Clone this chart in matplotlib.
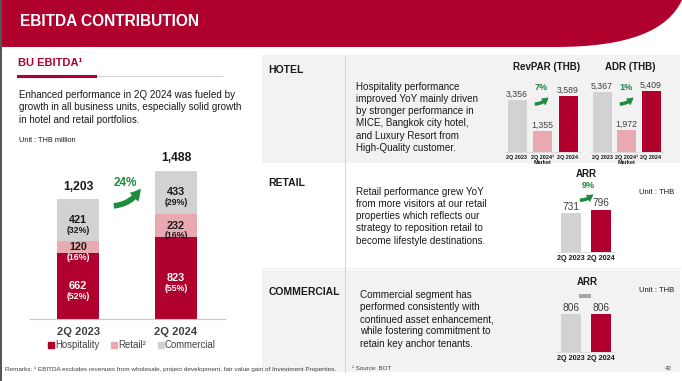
import matplotlib
matplotlib.use("Agg")
import matplotlib.pyplot as plt
from matplotlib.patches import Rectangle, FancyArrowPatch, PathPatch, Patch
from matplotlib.path import Path

plt.rcParams['font.family'] = ['Liberation Sans', 'DejaVu Sans']

# ---------------- data ----------------
periods = ["2Q 2023", "2Q 2024"]
segments = ["Hospitality", "Retail²", "Commercial"]
hospitality = [662, 823]
retail = [120, 232]
commercial = [421, 433]
hosp_pct = ["(52%)", "(55%)"]
retail_pct = ["(16%)", "(16%)"]
comm_pct = ["(32%)", "(29%)"]
total_growth = "24%"

hotel_cats = ["2Q 2023", "2Q 2024¹\nMarket", "2Q 2024"]
revpar = [3356, 1355, 3589]
adr = [5367, 1972, 5409]
revpar_growth = "7%"
adr_growth = "1%"

arr_cats = ["2Q 2023", "2Q 2024"]
retail_arr = [731, 796]
retail_growth = "9%"
commercial_arr = [806, 806]

# ---------------- style ----------------
RED = "#B0002E"
PINK = "#E8A9B1"
GRAY = "#D2D2D2"
BG = "#F2F2F2"
GREEN = "#1E8B3E"
TXT = "#1A1A1A"
DARK = "#404040"

W, H = 682, 381
fig = plt.figure(figsize=(W / 100, H / 100), dpi=100)


def fx(x):
    return x / W


def fy(y):
    return 1 - y / H


def ax_px(x0, y0, x1, y1):
    return fig.add_axes([x0 / W, 1 - y1 / H, (x1 - x0) / W, (y1 - y0) / H])


def txt(x, y, s, **kw):
    kw.setdefault("va", "center")
    return fig.text(fx(x), fy(y), s, **kw)


def rect(x0, y0, x1, y1, color, z=0):
    fig.add_artist(Rectangle((fx(x0), fy(y1)), (x1 - x0) / W, (y1 - y0) / H,
                             transform=fig.transFigure, color=color, lw=0, zorder=z))


def line(x0, y0, x1, y1, color, lw, z=1):
    fig.add_artist(plt.Line2D([fx(x0), fx(x1)], [fy(y0), fy(y1)],
                              transform=fig.transFigure, color=color, lw=lw, zorder=z))


def arrow(x0, y0, x1, y1, tail, head_w, head_l, rad=0.3):
    a = FancyArrowPatch((fx(x0), fy(y0)), (fx(x1), fy(y1)), transform=fig.transFigure,
                        connectionstyle=f"arc3,rad={rad}",
                        arrowstyle=f"simple,head_length={head_l},head_width={head_w},tail_width={tail}",
                        color=GREEN, lw=0, mutation_scale=1, zorder=5)
    fig.add_artist(a)


# ---------------- header ----------------
verts = [(0, 0), (W, 0), (W, 0), (668, 30), (630, 47), (555, 47), (0, 47), (0, 0)]
codes = [Path.MOVETO, Path.LINETO, Path.LINETO, Path.CURVE4, Path.CURVE4, Path.CURVE4,
         Path.LINETO, Path.CLOSEPOLY]
hp = Path([(fx(x), fy(y)) for x, y in verts], codes)
fig.add_artist(PathPatch(hp, transform=fig.transFigure, color=RED, lw=0, zorder=1))
txt(20, 22, "EBITDA CONTRIBUTION", color="white", fontsize=11.2, fontweight="bold", zorder=2)
rect(0, 0, 2, H, "#555555", z=3)

# ---------------- right panel backgrounds ----------------
rect(262, 55, 680, 163, BG)
rect(262, 270, 680, 372, BG)
line(262, 268, 680, 268, "#E6E6E6", 0.6)
line(345, 55, 345, 372, "#F2C9CF", 0.8, z=2)

# ---------------- left panel text ----------------
txt(18, 63, "BU EBITDA¹", color=RED, fontsize=8, fontweight="bold")
line(18, 76, 95, 76, RED, 2.2, z=2)
line(95, 76, 222, 76, "#D0D0D0", 0.7)
txt(19, 90, "Enhanced performance in 2Q 2024 was fueled by\n"
             "growth in all business units, especially solid growth\n"
             "in hotel and retail portfolios.",
    va="top", fontsize=7.1, color=TXT, linespacing=1.3)
txt(19, 141, "Unit : THB million", fontsize=5.3, color=TXT)

# ---------------- stacked chart ----------------
ax = ax_px(30, 169, 225, 319)
xs = list(range(len(periods)))
ax.bar(xs, hospitality, width=0.42, color=RED, zorder=2)
ax.bar(xs, retail, width=0.42, bottom=hospitality, color=PINK, zorder=2)
bottom_c = [h + r for h, r in zip(hospitality, retail)]
ax.bar(xs, commercial, width=0.42, bottom=bottom_c, color=GRAY, zorder=2)
ax.set_xlim(-0.49, 1.5)
ax.set_ylim(0, 150 / 0.0995)
for s in ["top", "right", "left"]:
    ax.spines[s].set_visible(False)
ax.spines["bottom"].set_color("#C8C8C8")
ax.spines["bottom"].set_linewidth(0.8)
ax.set_yticks([])
ax.set_xticks(xs)
ax.set_xticklabels(periods, fontsize=8, fontweight="bold", color=DARK)
ax.tick_params(axis="x", length=0, pad=5.5)
ax.patch.set_alpha(0)

num_colors = [["white", "white"], [TXT, TXT], [TXT, TXT]]
pct_colors = [["white", "white"], ["white", TXT], [TXT, TXT]]
series = [hospitality, retail, commercial]
pcts = [hosp_pct, retail_pct, comm_pct]
for i in xs:
    base = 0
    for k, vals in enumerate(series):
        v = vals[i]
        mid = base + v / 2
        ax.annotate(f"{v:,}", (i, mid), xytext=(0, 0), textcoords="offset points",
                    ha="center", va="center", fontsize=7.8, fontweight="bold",
                    color=num_colors[k][i], zorder=4)
        ax.annotate(pcts[k][i], (i, mid), xytext=(0, -7.2), textcoords="offset points",
                    ha="center", va="center", fontsize=6.3, fontweight="bold",
                    color=pct_colors[k][i], zorder=4)
        base += v
    ax.annotate(f"{base:,}", (i, base), xytext=(0, 9), textcoords="offset points",
                ha="center", va="center", fontsize=8.7, fontweight="bold", color=TXT,
                annotation_clip=False)

arrow(111, 206, 142, 186, tail=4, head_w=9, head_l=8, rad=0.3)
txt(125, 183, total_growth, color=GREEN, fontsize=8.5, fontweight="bold", ha="center")

handles = [Patch(color=c) for c in (RED, PINK, GRAY)]
fig.legend(handles, segments, loc="center", bbox_to_anchor=(fx(132), fy(345.5)), ncol=3,
           frameon=False, fontsize=6.9, handlelength=0.6, handleheight=0.6,
           handletextpad=0.15, columnspacing=1.2, labelcolor=DARK, borderaxespad=0,
           borderpad=0)


# ---------------- small bar charts ----------------
def small_bars(box, centers_px, width_px, px_per_unit, cats, vals, colors,
               vfs, tfs):
    x0, y0, x1, y1 = box
    step = (centers_px[-1] - centers_px[0]) / (len(centers_px) - 1)
    a = ax_px(x0, y0, x1, y1)
    idx = list(range(len(vals)))
    bars = a.bar(idx, vals, width=width_px / step, color=colors, zorder=2)
    a.set_xlim(-(centers_px[0] - x0) / step, idx[-1] + (x1 - centers_px[-1]) / step)
    a.set_ylim(0, (y1 - y0) / px_per_unit)
    for s in ["top", "right", "left"]:
        a.spines[s].set_visible(False)
    a.spines["bottom"].set_color("#D9D9D9")
    a.spines["bottom"].set_linewidth(0.6)
    a.set_yticks([])
    a.set_xticks(idx)
    a.set_xticklabels(cats, fontsize=tfs, fontweight="bold", color=TXT, linespacing=1.0)
    a.tick_params(axis="x", length=0, pad=2)
    a.patch.set_alpha(0)
    a.bar_label(bars, labels=[f"{v:,}" for v in vals], padding=1, fontsize=vfs,
                color=DARK)
    return a


# Hotel
txt(268, 70, "HOTEL", fontsize=7.5, fontweight="bold", color=TXT)
txt(356, 82, "Hospitality performance\nimproved YoY mainly driven\nby stronger performance in\n"
              "MICE, Bangkok city hotel,\nand Luxury Resort from\nHigh-Quality customer.",
    va="top", fontsize=7.1, color=TXT, linespacing=1.27)
txt(547, 67, "RevPAR (THB)", fontsize=7, fontweight="bold", ha="center", color=TXT)
txt(630, 67, "ADR (THB)", fontsize=7, fontweight="bold", ha="center", color=TXT)
hotel_colors = [GRAY, PINK, RED]
small_bars((505, 81, 581, 152), [517, 541, 568], 19, 0.0155, hotel_cats, revpar,
           hotel_colors, 6.3, 4.0)
small_bars((590, 81, 664, 152), [602, 626, 651], 19, 0.0112, hotel_cats, adr,
           hotel_colors, 6.3, 4.0)
arrow(532, 104, 550, 95, tail=2.5, head_w=6, head_l=5, rad=0.3)
txt(541, 88, revpar_growth, color=GREEN, fontsize=6.5, fontweight="bold", ha="center")
arrow(617, 104, 635, 95, tail=2.5, head_w=6, head_l=5, rad=0.3)
txt(626, 88, adr_growth, color=GREEN, fontsize=6.5, fontweight="bold", ha="center")

# Retail
txt(268, 183, "RETAIL", fontsize=7.5, fontweight="bold", color=TXT)
txt(356, 187, "Retail performance grew YoY\nfrom more visitors at our retail\n"
              "properties which reflects our\nstrategy to reposition retail to\n"
              "become lifestyle destinations.",
    va="top", fontsize=7.1, color=TXT, linespacing=1.27)
txt(586, 174, "ARR", fontsize=7, fontweight="bold", ha="center", color=TXT)
small_bars((557, 195, 615, 252), [571, 601], 20, 0.0533, arr_cats, retail_arr,
           [GRAY, RED], 7.3, 5.2)
arrow(577, 200, 595, 192, tail=2.5, head_w=6, head_l=5, rad=0.3)
txt(588, 186, retail_growth, color=GREEN, fontsize=6.5, fontweight="bold", ha="center")
txt(657, 193, "Unit : THB", fontsize=5.5, ha="center", color=TXT)

# Commercial
txt(269, 292, "COMMERCIAL", fontsize=7.5, fontweight="bold", color=TXT)
txt(360, 290, "Commercial segment has\nperformed consistently with\ncontinued asset enhancement,\n"
              "while fostering commitment to\nretain key anchor tenants.",
    va="top", fontsize=7.1, color=TXT, linespacing=1.27)
txt(587, 282, "ARR", fontsize=7, fontweight="bold", ha="center", color=TXT)
rect(579, 294, 591, 298, "#A6A6A6", z=3)
small_bars((557, 295, 615, 352), [571, 601], 20, 0.0471, arr_cats, commercial_arr,
           [GRAY, RED], 7.3, 5.2)
txt(657, 290, "Unit : THB", fontsize=5.5, ha="center", color=TXT)

# ---------------- footers ----------------
txt(5, 369, "Remarks: ¹ EBITDA excludes revenues from wholesale, project development, "
            "fair value gain of Investment Properties.", fontsize=4.55, color=DARK)
txt(352, 368, "¹ Source: BOT", fontsize=4.4, color=DARK)
txt(668, 368, "42", fontsize=4.4, color=DARK, ha="center")

fig.savefig("out.png", dpi=100)
